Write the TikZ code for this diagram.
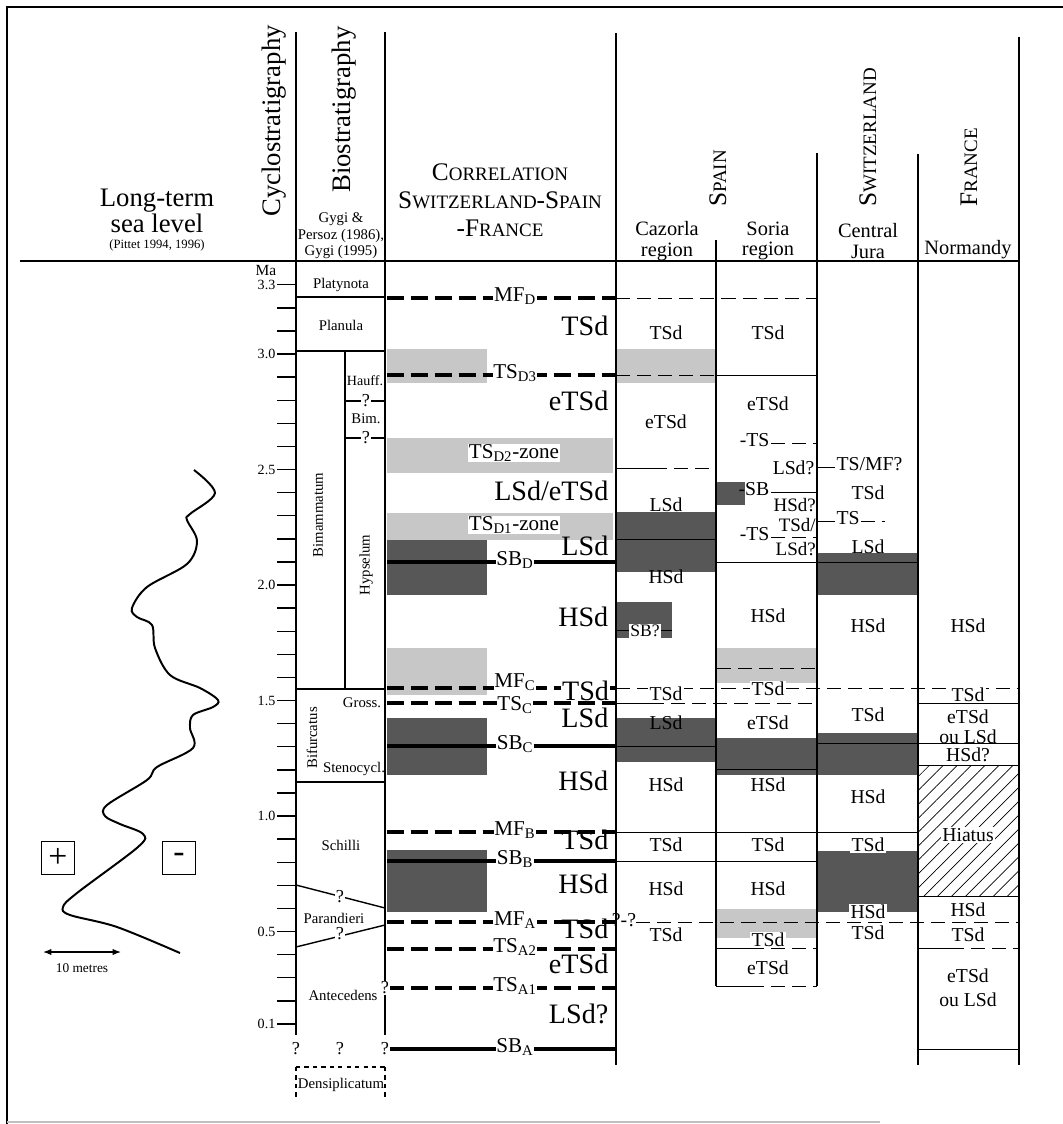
\documentclass[tikz,border=0pt]{standalone}
\usepackage{fontspec}
\setmainfont{Liberation Serif}
\usetikzlibrary{arrows.meta,patterns.meta}
\tikzset{
  hdtxt/.style   ={font=\fontsize{19}{19}\selectfont,inner sep=0pt},
  cntry/.style   ={font=\fontsize{18}{20}\selectfont,inner sep=0pt},
  regtxt/.style  ={font=\fontsize{14.5}{14.5}\selectfont,align=center,inner sep=0pt},
  bigtxt/.style  ={font=\fontsize{20}{22}\selectfont,inner sep=1pt,anchor=mid east},
  linetxt/.style ={font=\fontsize{15}{16}\selectfont,inner sep=0.5pt,fill=white,anchor=mid},
  celltxt/.style ={font=\fontsize{14}{14}\selectfont,inner sep=1pt},
  tighttxt/.style={font=\fontsize{13.5}{14}\selectfont,inner sep=0pt},
  wcell/.style   ={celltxt,fill=white},
  biotxt/.style  ={font=\fontsize{10.5}{12}\selectfont,inner sep=1pt},
  qmark/.style   ={font=\fontsize{13}{13}\selectfont,inner sep=0.5pt,fill=white},
  rultxt/.style  ={font=\fontsize{10}{12}\selectfont,inner sep=1pt,anchor=east},
  sgnbox/.style  ={draw,line width=0.8pt,minimum size=0.82cm,inner sep=0pt,
                   font=\fontsize{24}{24}\selectfont},
  lite/.style    ={fill=black!22},
  dark/.style    ={fill=black!66},
  sbl/.style     ={line width=2.2pt},
  dsl/.style     ={line width=2.2pt,dash pattern=on 12pt off 5pt},
  thinl/.style   ={line width=0.7pt},
  thind/.style   ={line width=0.7pt,dash pattern=on 10pt off 5pt},
  coll/.style    ={line width=1pt},
}
\newcommand{\scx}[2]{#1{\fontsize{13.5}{14}\selectfont #2}}

\begin{document}
\begin{tikzpicture}[x=0.025cm,y=-0.025cm]
\useasboundingbox (0,0) rectangle (1063,1124);
% frame
\draw[line width=1.4pt] (7,1124) -- (7,7) -- (1063,7);
\draw[black!25,line width=1pt] (7,1122) -- (880,1122);

% shaded bands
\fill[lite] (387,349) rectangle (487,383);
\fill[lite] (387,438) rectangle (613,473);
\fill[lite] (387,513) rectangle (613,540);
\fill[dark] (387,540) rectangle (487,595);
\fill[lite] (387,648) rectangle (487,695);
\fill[dark] (387,718) rectangle (487,775);
\fill[dark] (387,850) rectangle (487,912);
\fill[lite] (617,349) rectangle (716,383);
\fill[dark] (617,512) rectangle (716,572);
\fill[dark] (617,602) rectangle (672,638);
\fill[dark] (617,718) rectangle (716,762);
\fill[dark] (717,482) rectangle (745,505);
\fill[lite] (717,648) rectangle (816,683);
\fill[dark] (717,738) rectangle (816,775);
\fill[lite] (717,909) rectangle (816,938);
\fill[dark] (818,553) rectangle (918,595);
\fill[dark] (818,733) rectangle (918,775);
\fill[dark] (818,851) rectangle (918,912);
\fill[pattern={Lines[angle=45,distance=7pt,line width=0.5pt]}] (918,765) rectangle (1019,896);

% header texts
\node[hdtxt,align=center] (slv) at (157,211) {Long-term\\[-1pt]sea level};
\node[font=\fontsize{9}{10}\selectfont,inner sep=0pt] (pit) at (157,245) {(Pittet 1994, 1996)};
\node[hdtxt,rotate=90,anchor=base west] (cyc) at (280,217) {Cyclostratigraphy};
\node[hdtxt,rotate=90,anchor=base west] (bios) at (350,193) {Biostratigraphy};
\node[biotxt,align=center,font=\fontsize{10.5}{11.7}\selectfont] (gygi) at (341,236) {Gygi \&\\Persoz (1986),\\Gygi (1995)};
\node[cntry,align=center,font=\fontsize{18}{20}\selectfont] (corr) at (500,200)
  {\scx{C}{ORRELATION}\\\scx{S}{WITZERLAND}-\scx{S}{PAIN}\\-\scx{F}{RANCE}};
\node[cntry,rotate=90,anchor=base west] (spain) at (726,207) {\scx{S}{PAIN}};
\node[cntry,rotate=90,anchor=base west] (swiss) at (876,207) {\scx{S}{WITZERLAND}};
\node[cntry,rotate=90,anchor=base west] (franc) at (977,207) {\scx{F}{RANCE}};
\node[regtxt] (caz) at (667,241) {Cazorla\\region};
\node[regtxt] (sor) at (768,241) {Soria\\region};
\node[regtxt] (jur) at (868,241) {Central\\Jura};
\node[regtxt] (nor) at (968,250) {Normandy};

% column frame
\draw[line width=1.4pt] (20,261) -- (1019,261);
\draw[coll] (296,32) -- (296,1035);
\draw[line width=1.6pt] (385,32) -- (385,1035);
\draw[coll] (616,33) -- (616,1065);
\draw[coll] (716,240) -- (716,986);
\draw[coll] (817,153) -- (817,986);
\draw[coll] (918,154) -- (918,1065);
\draw[coll] (1019,37) -- (1019,1065);

% Ma scale
\node[font=\fontsize{11}{12}\selectfont,inner sep=0pt] (ma) at (266,271) {Ma};
\foreach \i in {1,...,33}
  \draw[coll] (277,{354+(30-\i)*23.1}) -- (296,{354+(30-\i)*23.1});
\foreach \v/\t in {33/3.3,30/3.0,25/2.5,20/2.0,15/1.5,10/1.0,5/0.5,1/0.1}
  \node[rultxt] (ma\v) at (277,{354+(30-\v)*23.1}) {\t};

% biostratigraphy
\draw[coll] (296,297) -- (385,297);
\draw[coll] (296,351) -- (385,351);
\draw[coll] (345,351) -- (345,689);
\draw[coll] (296,689) -- (385,689);
\draw[coll] (296,782) -- (385,782);
\draw[coll] (345,401) -- (385,401);
\draw[coll] (345,438) -- (385,438);
\draw[coll] (296,885) -- (385,908);
\draw[coll] (296,947) -- (385,925);
\node[biotxt] (platy) at (341,285) {Platynota};
\node[biotxt] (planu) at (341,325) {Planula};
\node[biotxt,rotate=90] (bimam) at (318,515) {Bimammatum};
\node[biotxt,font=\fontsize{10}{12}\selectfont] (hauff) at (365,381) {Hauff.};
\node[qmark] (q1) at (366,401) {?};
\node[biotxt] (bim) at (366,419) {Bim.};
\node[qmark] (q2) at (366,438) {?};
\node[biotxt,rotate=90] (hyps) at (366,565) {Hypselum};
\node[biotxt] (gross) at (362,703) {Gross.};
\node[biotxt,rotate=90] (bifur) at (312,738) {Bifurcatus};
\node[biotxt] (steno) at (354,769) {Stenocycl.};
\node[biotxt] (schil) at (341,845) {Schilli};
\node[qmark] (q3) at (340,897) {?};
\node[biotxt] (paran) at (334,918) {Parandieri};
\node[qmark] (q4) at (340,934) {?};
\node[biotxt] (antec) at (343,995) {Antecedens};
\draw[coll,dashed] (296,1067) -- (385,1067);
\draw[coll,dashed] (296,1067) -- (296,1100);
\draw[coll,dashed] (385,1067) -- (385,1100);
\node[biotxt] (densi) at (341,1085) {Densiplicatum};

% correlation surfaces
\foreach \yy/\st in {298/dsl,375/dsl,562/sbl,688/dsl,703/dsl,746/sbl,832/dsl,861/sbl,
    922/dsl,949/dsl,988/dsl,1049/sbl}
  \draw[\st] (387,\yy) -- (616,\yy);
\foreach \yy/\ly/\txt in {298/298/{MF\textsubscript{D}}, 375/375/{TS\textsubscript{D3}},
    562/562/{SB\textsubscript{D}}, 703/707/{TS\textsubscript{C}}, 688/684/{MF\textsubscript{C}},
    746/746/{SB\textsubscript{C}}, 832/832/{MF\textsubscript{B}}, 861/861/{SB\textsubscript{B}},
    922/922/{MF\textsubscript{A}}, 949/949/{TS\textsubscript{A2}}, 988/988/{TS\textsubscript{A1}},
    1049/1049/{SB\textsubscript{A}}}
  \node[linetxt] (k\yy) at (515,\ly) {\txt};
\node[linetxt] (zd2) at (514,455) {TS\textsubscript{D2}-zone};
\node[linetxt] (zd1) at (514,527) {TS\textsubscript{D1}-zone};
\node[qmark] (q5) at (296,1049) {?};
\node[qmark] (q6) at (340,1049) {?};
\node[qmark] (q7) at (385,1049) {?};
\node[qmark] (q8) at (385,988) {?};

% correlation system tracts
\foreach \yy/\t in {332/TSd,407/eTSd,552/LSd,623/HSd,724/LSd,787/HSd,846/TSd,890/HSd,935/TSd,970/eTSd,1020/LSd?}
  \node[bigtxt] (s\yy) at (610,\yy) {\t};
\node[bigtxt] (s497) at (610,497) {LSd/eTSd};
\node[bigtxt,fill=white,inner sep=0.5pt] (s697) at (610,697) {TSd};

% thin surfaces in the sections
\draw[thind] (616,298) -- (817,298);
\draw[thind] (616,375) -- (716,375);
\draw[thinl] (716,375) -- (817,375);
\draw[thinl] (616,468) -- (653,468);
\draw[thind] (653,468) -- (716,468);
\draw[thinl] (617,539) -- (716,539);
\draw[thinl] (716,562) -- (918,562);
\draw[thinl] (617,630) -- (672,630);
\draw[thind] (717,668) -- (816,668);
\draw[thind] (616,688) -- (1019,688);
\draw[thinl] (616,703) -- (650,703);
\draw[thind] (650,703) -- (817,703);
\draw[thinl] (918,703) -- (1019,703);
\draw[thinl] (617,746) -- (716,746);
\draw[thinl] (717,769) -- (816,769);
\draw[thinl] (818,743) -- (1019,743);
\draw[thinl] (918,765) -- (1019,765);
\draw[thinl] (616,832) -- (918,832);
\draw[thinl] (616,861) -- (817,861);
\draw[thinl] (918,896) -- (1019,896);
\draw[thind] (636,922) -- (1019,922);
\draw[thinl] (716,948) -- (750,948);
\draw[thind] (750,948) -- (817,948);
\draw[thinl] (918,948) -- (950,948);
\draw[thind] (950,948) -- (1019,948);
\draw[thinl] (716,986) -- (750,986);
\draw[thind] (750,986) -- (817,986);
\draw[thinl] (918,1049) -- (1019,1049);
\node[celltxt,inner sep=0pt] (qq) at (624,920) {?-?};

% Soria annotations
\node[celltxt,anchor=mid east] (sts1) at (771,443) {-TS};
\draw[thind] (sts1.mid east) -- (817,443);
\node[celltxt,anchor=east] (slsd) at (816,468) {LSd?};
\node[celltxt,anchor=mid east] (ssb) at (771,492) {-SB};
\draw[thinl] (ssb.mid east) -- (817,492);
\node[tighttxt,anchor=east] (shsd) at (816,505) {HSd?};
\node[tighttxt,anchor=east] (stsd) at (816,525) {TSd/};
\node[celltxt,anchor=mid east] (sts2) at (771,537) {-TS};
\draw[thind] (sts2.mid east) -- (817,537);
\node[tighttxt,anchor=east] (slsd2) at (816,549) {LSd?};

% Switzerland annotations
\node[celltxt,anchor=mid west] (wts1) at (835,467) {TS/MF?};
\draw[thinl] (817,467) -- (wts1.mid west);
\node[celltxt,anchor=mid west] (wts2) at (835,521) {TS};
\draw[thinl] (817,521) -- (wts2.mid west);
\draw[thind] (wts2.mid east) -- (885,521);

% Cazorla, Soria, Jura, Normandy
\node[font=\fontsize{12.5}{13}\selectfont,inner sep=1pt,fill=white] (csb) at (645,631) {SB?};
\foreach \xx/\yy/\t in {666/333/TSd,666/422/eTSd,666/505/LSd,666/577/HSd,666/723/LSd,
    666/785/HSd,666/845/TSd,666/889/HSd,666/935/TSd,
    768/333/TSd,768/404/eTSd,768/616/HSd,768/723/eTSd,768/785/HSd,768/845/TSd,
    768/889/HSd,768/968/eTSd,
    868/493/TSd,868/547/LSd,868/626/HSd,868/715/TSd,868/797/HSd,868/933/TSd,
    968/626/HSd,968/755/HSd?,968/910/HSd,968/935/TSd}
  \node[celltxt] (c\xx\yy) at (\xx,\yy) {\t};
\foreach \xx/\yy/\t in {666/694/TSd,768/689/TSd,768/940/TSd,868/845/TSd,868/912/HSd,
    968/695/TSd,968/835/Hiatus}
  \node[wcell] (w\xx\yy) at (\xx,\yy) {\t};
\node[celltxt,align=center,font=\fontsize{14}{14}\selectfont] (fr1) at (968,727) {eTSd\\ou LSd};
\node[celltxt,align=center,font=\fontsize{14}{17}\selectfont] (fr2) at (968,988) {eTSd\\ou LSd};

% sea-level curve
\draw[line width=1.4pt] plot[smooth,tension=0.55] coordinates {
  (194,470) (215,493) (190,514) (187,520) (197,541) (187,564) (147,587)
  (132,608) (137,617) (152,625) (155,648) (170,675) (200,688) (218,700)
  (213,707) (193,715) (190,728) (193,748) (157,767) (147,780) (107,805)
  (105,816) (120,824) (143,834) (138,847) (77,893) (63,907) (70,915)
  (117,927) (180,953)};
\node[sgnbox] (plus) at (58,858) {+};
\node[sgnbox] (minus) at (179,858) {-};
\coordinate (m1) at (43,952);
\coordinate (m2) at (121,952);
\draw[line width=0.8pt,{Latex[length=6pt]}-{Latex[length=6pt]}] (m1) -- (m2);
\node[font=\fontsize{9.5}{10}\selectfont,inner sep=0pt] (tenm) at (82,968) {10 metres};
\end{tikzpicture}
\end{document}
